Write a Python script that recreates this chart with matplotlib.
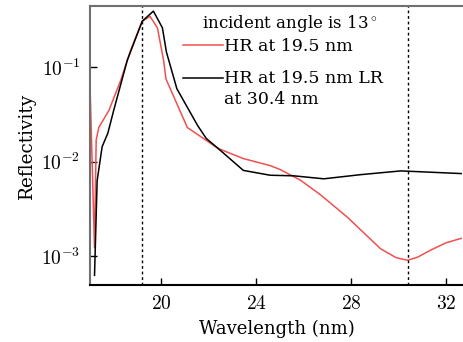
import numpy as np
import matplotlib as mpl
import matplotlib.pyplot as plt

mpl.rcParams['font.family'] = 'DejaVu Serif'
mpl.rcParams['mathtext.fontset'] = 'cm'

# HR at 19.5 nm (red)
hr_x = [17.0, 17.19, 17.26, 17.37, 17.8, 18.29, 18.71, 19.2, 19.53, 19.84,
        20.1, 20.2, 21.1, 22.4, 23.46, 24.59, 25.0, 25.86, 26.7, 27.84,
        29.25, 29.9, 30.38, 30.8, 31.37, 32.0, 32.64]
hr_y = [0.063, 0.00123, 0.017, 0.023, 0.035, 0.072, 0.15, 0.305, 0.343, 0.26,
        0.118, 0.075, 0.023, 0.0138, 0.0108, 0.0091, 0.0083, 0.0064, 0.0045, 0.0026,
        0.0012, 0.00097, 0.00091, 0.00098, 0.00117, 0.00139, 0.00155]

# HR at 19.5 nm LR at 30.4 nm (black)
lr_x = [17.19, 17.3, 17.51, 17.75, 18.0, 18.57, 19.2, 19.67, 20.05, 20.22,
        20.66, 21.54, 21.9, 22.4, 23.46, 24.59, 25.58, 26.85, 28.4, 30.1, 32.64]
lr_y = [0.00063, 0.0063, 0.0144, 0.02, 0.035, 0.118, 0.305, 0.39, 0.26, 0.144,
        0.059, 0.024, 0.0176, 0.0138, 0.0081, 0.0072, 0.0071, 0.0066, 0.0073, 0.0080, 0.0075]

vlines = [19.2, 30.4]
xticks = [20, 24, 28, 32]
yticks = [1e-3, 1e-2, 1e-1]

fig = plt.figure(figsize=(4.64, 3.42), dpi=100)
ax = fig.add_axes([0.194, 0.167, 0.806, 0.815])

ax.plot(hr_x, hr_y, color='#f05050', lw=1.1, label='HR at 19.5 nm')
ax.plot(lr_x, lr_y, color='k', lw=1.1, label='HR at 19.5 nm LR\nat 30.4 nm')
for v in vlines:
    ax.axvline(v, color='k', lw=1.0, ls=(0, (2, 2)))

ax.set_yscale('log')
ax.set_xlim(17, 32.76)
ax.set_ylim(5e-4, 0.44)
ax.set_xticks(xticks)
ax.set_xticklabels(['$%d$' % t for t in xticks], fontsize=14)
ax.set_yticks(yticks)
ax.set_yticklabels([r'$10^{-3}$', r'$10^{-2}$', r'$10^{-1}$'], fontsize=14)
ax.minorticks_off()
ax.tick_params(direction='in', length=5, width=1.0)
ax.tick_params(axis='x', pad=7)
ax.tick_params(axis='y', pad=7)

ax.spines['right'].set_visible(False)
ax.spines['left'].set_color('#707070')
ax.spines['top'].set_color('#707070')
for s in ['left', 'top', 'bottom']:
    ax.spines[s].set_linewidth(1.5)

ax.set_xlabel('Wavelength (nm)', fontsize=13, labelpad=5)
ax.set_ylabel('Reflectivity', fontsize=13.3, labelpad=4)

ax.text(0.535, 0.938, 'incident angle is 13$^\\circ$', transform=ax.transAxes,
        ha='center', va='center', fontsize=12)

leg = ax.legend(loc='upper left', bbox_to_anchor=(0.22, 0.922), frameon=False,
                fontsize=12.5, handlelength=2.3, handletextpad=0.05,
                labelspacing=0.85, borderaxespad=0.2)
leg.get_texts()[1].set_linespacing(1.3)
# put the black handle next to the first line of its two-line label
hl = leg.get_lines()[1]
hl.set_ydata(np.asarray(hl.get_ydata()) + 8.5)

plt.savefig('out.png', dpi=100)
